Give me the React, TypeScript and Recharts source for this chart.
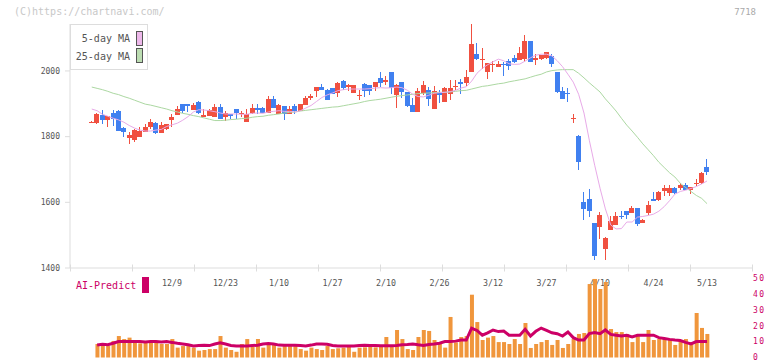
import React from 'react';
import { ComposedChart, Bar, Line, XAxis, YAxis, usePlotArea } from 'recharts';

// trading days shown on the chart
const dates = [
  '11/18', '11/19', '11/20', '11/21', '11/22', '11/25', '11/26', '11/27', '11/28', '11/29',
  '12/2', '12/3', '12/4', '12/5', '12/6', '12/9', '12/10', '12/11', '12/12', '12/13',
  '12/16', '12/17', '12/18', '12/19', '12/20', '12/23', '12/24', '12/25', '12/26', '12/27',
  '12/30', '1/6', '1/7', '1/8', '1/9', '1/10', '1/14', '1/15', '1/16', '1/17',
  '1/20', '1/21', '1/22', '1/23', '1/24', '1/27', '1/28', '1/29', '1/30', '1/31',
  '2/3', '2/4', '2/5', '2/6', '2/7', '2/10', '2/12', '2/13', '2/14', '2/17',
  '2/18', '2/19', '2/20', '2/21', '2/25', '2/26', '2/27', '2/28', '3/3', '3/4',
  '3/5', '3/6', '3/7', '3/10', '3/11', '3/12', '3/13', '3/14', '3/17', '3/18',
  '3/19', '3/21', '3/24', '3/25', '3/26', '3/27', '3/28', '3/31', '4/1', '4/2',
  '4/3', '4/4', '4/7', '4/8', '4/9', '4/10', '4/11', '4/14', '4/15', '4/16',
  '4/17', '4/18', '4/21', '4/22', '4/23', '4/24', '4/25', '4/28', '4/30', '5/1',
  '5/2', '5/7', '5/8', '5/9', '5/12', '5/13',
];

const opens = [
  1845, 1841, 1865, 1850, 1871, 1878, 1826, 1796, 1789, 1800,
  1814, 1829, 1842, 1811, 1824, 1850, 1866, 1899, 1899, 1881,
  1905, 1859, 1862, 1859, 1890, 1861, 1868, 1884, 1869, 1844,
  1871, 1887, 1888, 1871, 1914, 1870, 1894, 1870, 1894, 1877,
  1897, 1918, 1939, 1952, 1941, 1947, 1932, 1970, 1951, 1932,
  1926, 1960, 1957, 1951, 1978, 1967, 1996, 1926, 1966, 1935,
  1896, 1875, 1932, 1941, 1884, 1932, 1905, 1929, 1954, 1966,
  1964, 1996, 2051, 2036, 1996, 2020, 2011, 2021, 2030, 2039,
  2033, 2036, 2090, 2033, 2036, 2039, 2045, 1996, 1938, 1932,
  1857, 1801, 1601, 1610, 1537, 1525, 1458, 1516, 1531, 1559,
  1573, 1567, 1583, 1537, 1567, 1610, 1607, 1635, 1629, 1643,
  1643, 1652, 1637, 1659, 1659, 1707,
];

const highs = [
  1847, 1871, 1881, 1862, 1881, 1881, 1829, 1814, 1823, 1829,
  1838, 1854, 1844, 1845, 1839, 1868, 1893, 1899, 1899, 1902,
  1908, 1884, 1884, 1899, 1899, 1878, 1868, 1884, 1878, 1884,
  1899, 1899, 1891, 1924, 1924, 1899, 1894, 1894, 1899, 1899,
  1924, 1930, 1952, 1960, 1945, 1947, 1966, 1973, 1961, 1957,
  1941, 1963, 1957, 1965, 1996, 1986, 1996, 1960, 1966, 1935,
  1917, 1948, 1969, 1951, 1954, 1941, 1951, 1972, 1972, 1975,
  2002, 2142, 2084, 2069, 2024, 2030, 2030, 2028, 2036, 2048,
  2072, 2109, 2090, 2051, 2048, 2057, 2051, 1996, 1951, 1947,
  1868, 1805, 1631, 1640, 1537, 1570, 1494, 1558, 1570, 1573,
  1573, 1589, 1583, 1549, 1604, 1631, 1634, 1652, 1652, 1646,
  1659, 1659, 1646, 1671, 1692, 1732,
];

const lows = [
  1844, 1840, 1838, 1830, 1832, 1817, 1798, 1778, 1783, 1798,
  1814, 1823, 1808, 1811, 1821, 1830, 1866, 1872, 1875, 1881,
  1868, 1859, 1862, 1859, 1854, 1848, 1854, 1854, 1859, 1844,
  1868, 1868, 1871, 1871, 1887, 1870, 1851, 1870, 1869, 1877,
  1897, 1913, 1921, 1941, 1912, 1930, 1921, 1942, 1938, 1932,
  1911, 1920, 1926, 1939, 1951, 1958, 1929, 1887, 1917, 1890,
  1875, 1875, 1926, 1893, 1884, 1903, 1905, 1911, 1941, 1929,
  1955, 1996, 2033, 2005, 1975, 1996, 2011, 1984, 2002, 2024,
  2033, 2027, 2027, 2017, 2033, 2036, 2011, 1932, 1914, 1905,
  1841, 1698, 1546, 1556, 1424, 1488, 1424, 1516, 1531, 1549,
  1549, 1567, 1528, 1537, 1561, 1604, 1604, 1619, 1619, 1625,
  1637, 1637, 1625, 1650, 1656, 1683,
];

const closes = [
  1846, 1869, 1850, 1862, 1853, 1817, 1815, 1805, 1820, 1817,
  1829, 1845, 1811, 1836, 1839, 1859, 1884, 1878, 1893, 1895,
  1871, 1865, 1881, 1890, 1854, 1872, 1864, 1872, 1872, 1868,
  1888, 1882, 1871, 1914, 1887, 1897, 1870, 1884, 1878, 1899,
  1917, 1924, 1952, 1941, 1912, 1930, 1963, 1947, 1957, 1957,
  1927, 1939, 1939, 1965, 1963, 1973, 1948, 1957, 1935, 1893,
  1875, 1938, 1957, 1914, 1938, 1926, 1948, 1948, 1955, 1960,
  1981, 2081, 2036, 2037, 2024, 2021, 2020, 2020, 2015, 2027,
  2054, 2090, 2027, 2039, 2048, 2057, 2020, 1935, 1914, 1931,
  1858, 1722, 1580, 1573, 1437, 1561, 1491, 1543, 1558, 1558,
  1561, 1583, 1534, 1546, 1592, 1604, 1631, 1643, 1643, 1628,
  1652, 1637, 1646, 1660, 1689, 1692,
];

const ma5 = [
  1884, 1879, 1868, 1862, 1856, 1851, 1844, 1834, 1826, 1820,
  1817, 1817, 1820, 1822, 1831, 1836, 1841, 1850, 1861, 1875,
  1882, 1881, 1879, 1876, 1872, 1869, 1869, 1869, 1868, 1868,
  1871, 1872, 1871, 1875, 1877, 1879, 1877, 1877, 1875, 1879,
  1887, 1895, 1907, 1919, 1927, 1933, 1940, 1943, 1945, 1945,
  1945, 1945, 1946, 1948, 1949, 1948, 1949, 1951, 1949, 1941,
  1929, 1922, 1921, 1926, 1932, 1934, 1935, 1937, 1941, 1948,
  1952, 1969, 1993, 2008, 2019, 2028, 2036, 2031, 2022, 2020,
  2021, 2030, 2040, 2048, 2051, 2051, 2046, 2031, 2013, 1990,
  1966, 1929, 1872, 1789, 1713, 1643, 1580, 1531, 1519, 1520,
  1540, 1540, 1555, 1557, 1560, 1564, 1573, 1587, 1605, 1625,
  1633, 1637, 1642, 1648, 1656, 1665,
];

const ma25 = [
  1951, 1947, 1943, 1938, 1932, 1928, 1922, 1917, 1911, 1905,
  1899, 1896, 1892, 1888, 1884, 1879, 1875, 1871, 1868, 1864,
  1861, 1857, 1853, 1849, 1849, 1850, 1852, 1853, 1855, 1856,
  1859, 1861, 1862, 1865, 1867, 1869, 1872, 1874, 1875, 1878,
  1880, 1882, 1884, 1886, 1888, 1890, 1891, 1894, 1897, 1900,
  1903, 1907, 1910, 1912, 1914, 1917, 1920, 1923, 1925, 1927,
  1929, 1931, 1932, 1933, 1934, 1935, 1935, 1936, 1938, 1940,
  1941, 1945, 1949, 1953, 1955, 1958, 1961, 1963, 1967, 1970,
  1973, 1976, 1981, 1986, 1990, 1997, 2001, 2003, 2004, 2004,
  2004, 1993, 1979, 1964, 1950, 1936, 1915, 1897, 1878, 1856,
  1835, 1817, 1798, 1778, 1760, 1742, 1722, 1706, 1690, 1677,
  1658, 1645, 1633, 1621, 1612, 1596,
];

const volumes = [
  null, 8.5, 8.9, 7.2, 10.4, 13.5, 11.6, 12.5, 9.7, 8.9,
  9.5, 10.4, 9.7, 8.5, 8.5, 11.6, 6.2, 7.2, 7.2, 6.2,
  4.3, 4.7, 5.3, 5.3, 13.5, 6.2, 4.7, 3.6, 8.5, 11.6,
  6.8, 11.6, 6.2, 7.9, 8.9, 6.2, 7.2, 7.2, 7.2, 5.3,
  4.3, 6.2, 5.3, 4.7, 7.2, 5.3, 5.8, 6.2, 6.8, 3.6,
  6.2, 6.4, 6.8, 6.4, 7.5, 12.9, 7.0, 17.3, 11.6, 5.3,
  4.7, 12.9, 17.3, 16.7, 11.0, 8.9, 6.2, 25.5, 9.5, 12.9,
  13.5, 39.5, 22.3, 11.0, 12.5, 13.5, 9.7, 9.7, 8.5, 11.6,
  8.5, 21.7, 6.0, 8.5, 9.7, 11.0, 7.9, 11.0, 6.0, 8.5,
  11.6, 14.8, 15.4, 46.2, 49.4, 43.1, 47.5, 17.9, 16.0, 16.0,
  14.8, 9.7, 13.5, 9.7, 17.3, 11.0, 11.6, 11.6, 11.0, 7.9,
  10.4, 11.6, 9.7, 28.0, 18.6, 14.8,
];

const aiPredict = [
  null, 7.8, 8.3, 8.0, 9.0, 10.0, 10.0, 10.0, 10.0, 10.0,
  9.8, 10.0, 10.0, 9.8, 10.0, 9.5, 8.9, 8.5, 8.0, 7.3,
  7.5, 7.7, 7.5, 8.5, 9.3, 8.5, 7.6, 7.3, 7.3, 7.3,
  7.5, 7.7, 8.5, 8.8, 8.5, 7.8, 7.7, 7.7, 7.7, 7.5,
  7.3, 7.8, 8.5, 8.5, 8.3, 7.5, 7.2, 7.3, 7.3, 7.3,
  7.5, 7.7, 7.5, 7.5, 7.4, 7.4, 7.4, 7.6, 8.0, 8.2,
  8.5, 8.0, 7.6, 8.2, 8.5, 9.0, 10.0, 10.0, 10.3, 11.0,
  11.0, 18.4, 17.0, 14.0, 15.5, 17.3, 16.3, 16.6, 14.0, 14.0,
  14.0, 17.7, 13.5, 16.5, 18.5, 17.0, 15.5, 15.0, 13.5, 16.0,
  12.5, 11.0, 11.0, 15.0, 15.7, 15.0, 17.3, 14.5, 14.0, 13.5,
  14.0, 13.0, 14.0, 14.0, 14.0, 14.0, 12.5, 12.0, 11.4, 11.0,
  10.7, 9.5, 8.5, 10.0, 10.0, 10.0,
];

const dateTicks = ['12/9', '12/23', '1/10', '1/27', '2/10', '2/26', '3/12', '3/27', '4/10', '4/24', '5/13'];
const priceTicks = [1400, 1600, 1800, 2000];
const volumeTicks = [0, 10, 20, 30, 40, 50];
const gridSteps = 11; // evenly spaced marks along the bottom axis

const UP = '#F05040';
const DOWN = '#4080F0';
const AXIS = '#DDDDDD';
const MONO = '"DejaVu Sans Mono", monospace';
const xPad = { left: 19.1, right: 42.3 };

const rows = dates.map((date, i) => ({
  date,
  open: opens[i],
  high: highs[i],
  low: lows[i],
  close: closes[i],
  range: [lows[i], highs[i]],
  ma5: ma5[i],
  ma25: ma25[i],
  volume: volumes[i],
  ai: aiPredict[i],
}));

const Candle = (props: any) => {
  const { x, y, width, height, payload } = props;
  if (x == null || y == null) return null;
  const { open, close, high, low } = payload;
  const top = Math.min(y, y + height);
  const h = Math.abs(height);
  const k = high > low ? h / (high - low) : 0;
  const yOf = (v: number) => top + (high - v) * k;
  const color = close >= open ? UP : DOWN;
  const bx = Math.round(x);
  const cx = bx + Math.floor(width / 2) + 0.5;
  const bTop = yOf(Math.max(open, close));
  const bBot = yOf(Math.min(open, close));
  return (
    <g shapeRendering="crispEdges">
      <line x1={cx} x2={cx} y1={top} y2={top + h} stroke={color} strokeWidth={1} />
      <rect x={bx} y={bTop} width={width} height={Math.max(bBot - bTop, 1)} fill={color} />
    </g>
  );
};

const DateTick = (props: any) => {
  const { x, y, payload } = props;
  return (
    <text x={x} y={y + 18} textAnchor="middle" fill="#555" fontSize={8.3} fontFamily={MONO}>
      {payload.value}
    </text>
  );
};

// small marks across the bottom axis line, spread evenly over the plot width
const AxisMarks = () => {
  const area = usePlotArea();
  if (!area) return null;
  const base = Math.round(area.y + area.height) + 0.5;
  const marks = Array.from({ length: gridSteps + 1 }, (_, k) => Math.round(area.x + (k * area.width) / gridSteps) + 0.5);
  return (
    <g>
      {marks.map((mx) => (
        <line key={mx} x1={mx} x2={mx} y1={base - 4} y2={base + 3} stroke={AXIS} strokeWidth={1} />
      ))}
    </g>
  );
};

export default function App() {
  return (
    <div style={{ position: 'absolute', left: 0, top: 0, width: 772, height: 361, background: '#fff', fontFamily: MONO }}>
      <div style={{ position: 'absolute', left: 14, top: 6, fontSize: 10, lineHeight: '12px', color: '#C8C8C8' }}>
        (C)https://chartnavi.com/
      </div>
      <div style={{ position: 'absolute', right: 16, top: 6, fontSize: 9, lineHeight: '12px', color: '#AAA' }}>7718</div>

      <div style={{ position: 'absolute', left: 0, top: 0 }}>
        <ComposedChart width={772} height={300} data={rows} margin={{ top: 24, right: 20, bottom: 2, left: 0 }}>
          <XAxis
            dataKey="date"
            ticks={dateTicks}
            interval={0}
            height={30}
            padding={xPad}
            axisLine={{ stroke: AXIS }}
            tickLine={false}
            tickSize={0}
            tickMargin={0}
            tick={<DateTick />}
          />
          <YAxis
            domain={[1400, 2143]}
            ticks={priceTicks}
            width={70}
            axisLine={{ stroke: AXIS }}
            tickLine={{ stroke: AXIS }}
            tickSize={5}
            tickMargin={5}
            tick={{ fill: '#555', fontSize: 8, fontFamily: MONO }}
          />
          <AxisMarks />
          <Line dataKey="ma25" stroke="#ACD8A2" strokeWidth={1} dot={false} isAnimationActive={false} />
          <Line dataKey="ma5" stroke="#E8AAE8" strokeWidth={1} dot={false} isAnimationActive={false} />
          <Bar dataKey="range" barSize={5} shape={<Candle />} isAnimationActive={false} />
        </ComposedChart>
      </div>

      <div style={{ position: 'absolute', left: 0, top: 0 }}>
        <ComposedChart width={772} height={361} data={rows} margin={{ top: 278, right: 0, bottom: 3.5, left: 70 }}>
          <XAxis dataKey="date" hide padding={xPad} />
          <YAxis
            orientation="right"
            domain={[0, 50]}
            ticks={volumeTicks}
            interval={0}
            width={20}
            axisLine={false}
            tickLine={false}
            tickSize={0}
            tickMargin={1}
            tick={{ fill: '#CC0066', fontSize: 8, fontFamily: MONO, letterSpacing: 1.5 }}
          />
          <Bar dataKey="volume" barSize={4} fill="#F0963C" isAnimationActive={false} />
          <Line dataKey="ai" stroke="#CC0066" strokeWidth={3} dot={false} isAnimationActive={false} />
        </ComposedChart>
      </div>

      {/* moving average legend */}
      <div
        style={{
          position: 'absolute', left: 70, top: 24, width: 78, height: 46,
          border: `1px solid ${AXIS}`, boxSizing: 'border-box', background: '#fff',
          fontSize: 10, color: '#555',
        }}
      >
        <div style={{ position: 'absolute', left: 0, width: 59, top: 8, lineHeight: '12px', textAlign: 'right' }}>5-day MA</div>
        <div style={{ position: 'absolute', left: 65, top: 6, width: 7, height: 15, background: '#EDB8EA', border: '1px solid #555', boxSizing: 'border-box' }} />
        <div style={{ position: 'absolute', left: 0, width: 59, top: 26, lineHeight: '12px', textAlign: 'right' }}>25-day MA</div>
        <div style={{ position: 'absolute', left: 65, top: 23, width: 7, height: 15, background: '#BCDDB2', border: '1px solid #555', boxSizing: 'border-box' }} />
      </div>

      <div style={{ position: 'absolute', left: 76, top: 280, fontSize: 10, lineHeight: '12px', color: '#CC0066' }}>AI-Predict</div>
      <div style={{ position: 'absolute', left: 142, top: 277, width: 7, height: 16, background: '#CC0066' }} />
    </div>
  );
}
